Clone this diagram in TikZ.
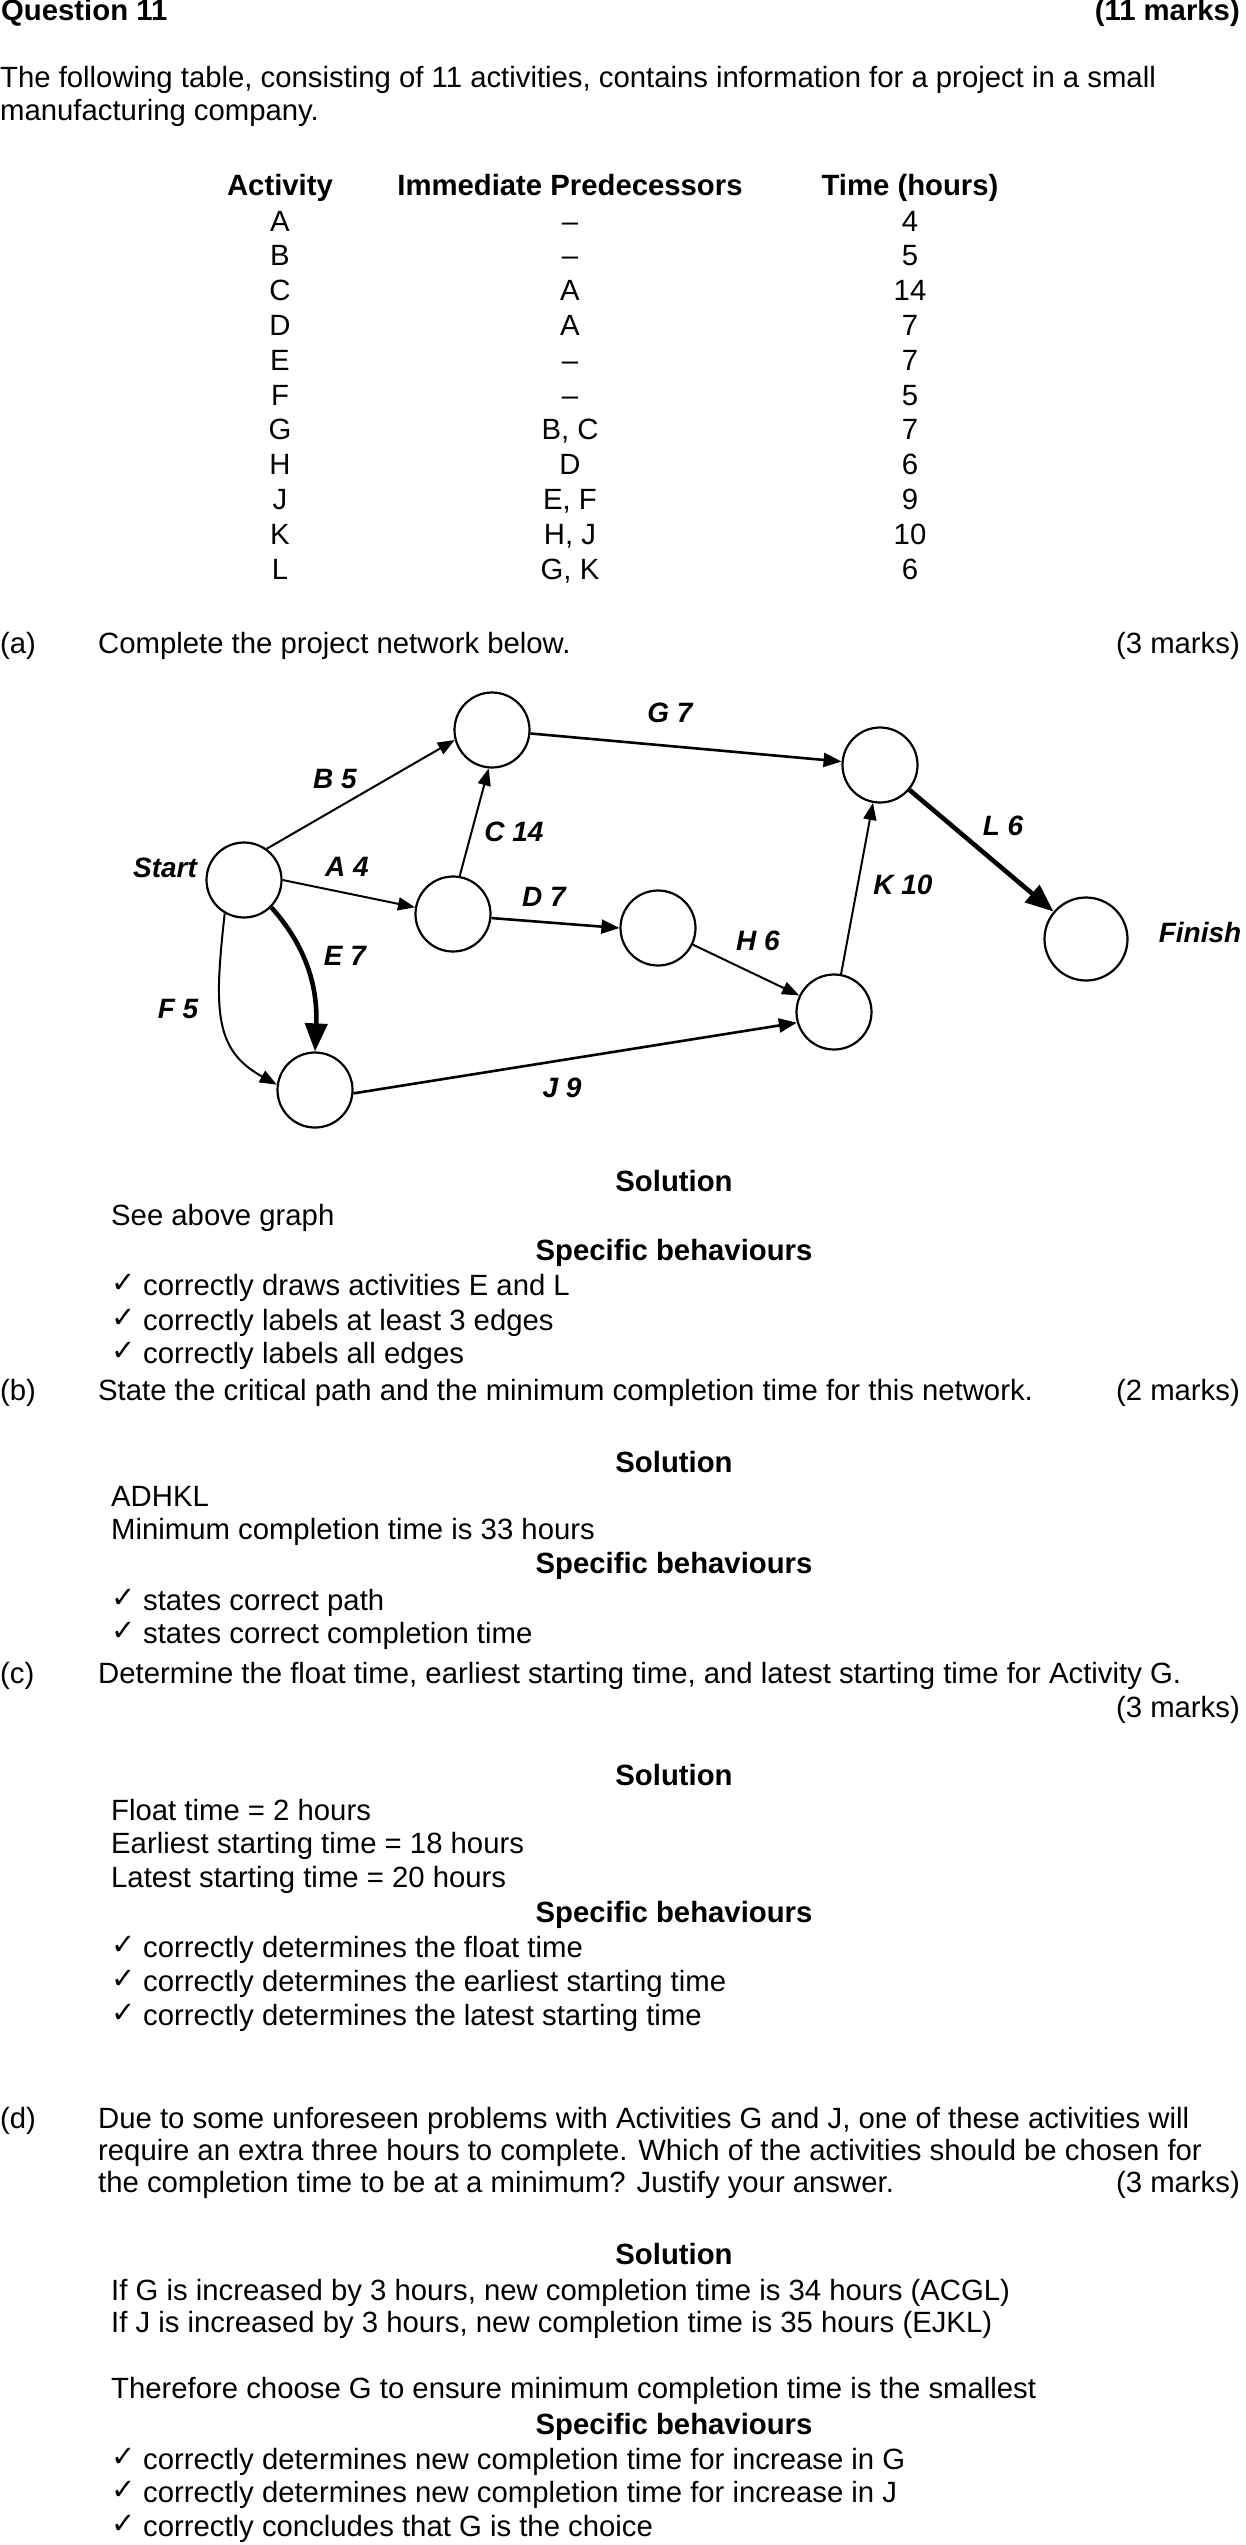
\documentclass[tikz,border=0pt]{standalone}
\usepackage{fontspec}
\setmainfont{Liberation Sans}
\newfontfamily\chkfont{DejaVu Sans}
\usetikzlibrary{arrows.meta}
\begin{document}
\begin{tikzpicture}[x=1pt,y=-1pt,
  txt/.style={anchor=base west,inner sep=0pt,font=\fontsize{29.3}{33}\selectfont},
  txtr/.style={txt,anchor=base east},
  txtc/.style={txt,anchor=base},
  bld/.style={font=\fontsize{29.3}{33}\selectfont\bfseries},
  chk/.style={anchor=base west,inner sep=0pt,yshift=3pt,font=\fontsize{29}{31}\selectfont\chkfont},
  ev/.style={circle,draw,line width=2.2pt,minimum size=75pt,inner sep=0pt},
  lab/.style={inner sep=0pt,font=\fontsize{28}{30}\selectfont\bfseries\itshape},
  act/.style={line width=2pt,-{Triangle[length=17pt,width=13pt]}},
  actm/.style={line width=2.6pt,-{Triangle[length=18pt,width=14pt]}},
  crit/.style={line width=4.6pt,-{Triangle[length=28pt,width=22pt]}}
]
\useasboundingbox (0,0) rectangle (1246,2545);

% ---------- header ----------
\node[txt,bld] (q) at (1,21) {Question 11};
\node[txtr,bld] (qm) at (1240,21) {(11 marks)};
\node[txt] (p1) at (0,88) {The following table, consisting of 11 activities, contains information for a project in a small};
\node[txt] (p2) at (0,121) {manufacturing company.};

% ---------- table ----------
\node[txtc,bld] (h1) at (280,195) {Activity};
\node[txtc,bld] (h2) at (570,195) {Immediate Predecessors};
\node[txtc,bld] (h3) at (910,195) {Time (hours)};
\foreach \a/\p/\t [count=\i from 0] in {A/–/4, B/–/5, C/A/14, D/A/7, E/–/7, F/–/5, G/{B, C}/7, H/D/6, J/{E, F}/9, K/{H, J}/10, L/{G, K}/6}{
  \node[txtc] (ra\i) at (280,231+\i*34.8) {\a};
  \node[txtc] (rp\i) at (570,231+\i*34.8) {\p};
  \node[txtc] (rt\i) at (910,231+\i*34.8) {\t};
}

% ---------- part (a) ----------
\node[txt] (la) at (0,653) {(a)};
\node[txt] (qa) at (98,653) {Complete the project network below.};
\node[txtr] (ma) at (1240,653) {(3 marks)};

% network
\node[ev] (S)  at (244,880) {};
\node[ev] (N1) at (492,730) {};
\node[ev] (N2) at (453,914) {};
\node[ev] (N3) at (315,1090) {};
\node[ev] (N4) at (658,928) {};
\node[ev] (N5) at (880,765) {};
\node[ev] (N6) at (834,1012) {};
\node[ev,minimum size=83pt] (N7) at (1086,939) {};

\draw[act]  (S.54) -- (N1.195);
\draw[act]  (S.0) -- (N2.170);
\draw[act]  (N2.80) -- (N1.-95);
\draw[actm] (N2.-6) -- (N4.180);
\draw[crit] (S.-45) .. controls (305,945) and (318,985) .. (N3.north);
\draw[act]  (S.-120) .. controls (214,1010) and (214,1050) .. (N3.172);
\draw[actm] (N1) -- (N5);
\draw[act]  (N4) -- (N6);
\draw[actm] (N3.-5) -- (N6.196);
\draw[act]  (N6) -- (N5);
\draw[crit] (N5) -- (N7);

\node[lab] (lS)  at (165,868) {Start};
\node[lab] (lF)  at (1200,932) {Finish};
\node[lab] (lB)  at (335,779) {B 5};
\node[lab] (lA)  at (347,867) {A 4};
\node[lab] (lC)  at (514,832) {C 14};
\node[lab] (lD)  at (544,897) {D 7};
\node[lab] (lE)  at (345,956) {E 7};
\node[lab] (lFF) at (178,1009) {F 5};
\node[lab] (lJ)  at (562,1088) {J 9};
\node[lab] (lG)  at (670,713) {G 7};
\node[lab] (lL)  at (1003,826) {L 6};
\node[lab] (lK)  at (903,885) {K 10};
\node[lab] (lH)  at (758,941) {H 6};

% solution (a)
\node[txtc,bld] (sa) at (674,1191) {Solution};
\node[txt] (sa1) at (111,1225) {See above graph};
\node[txtc,bld] (ba) at (674,1260) {Specific behaviours};
\node[chk] (ca1) at (111,1295) {✓};
\node[txt] (da1) at (143,1295) {correctly draws activities E and L};
\node[chk] (ca2) at (111,1330) {✓};
\node[txt] (da2) at (143,1330) {correctly labels at least 3 edges};
\node[chk] (ca3) at (111,1363) {✓};
\node[txt] (da3) at (143,1363) {correctly labels all edges};

% ---------- part (b) ----------
\node[txt] (lb) at (0,1400) {(b)};
\node[txt] (qb) at (98,1400) {State the critical path and the minimum completion time for this network.};
\node[txtr] (mb) at (1240,1400) {(2 marks)};
\node[txtc,bld] (sb) at (674,1472) {Solution};
\node[txt] (sb1) at (111,1506) {ADHKL};
\node[txt] (sb2) at (111,1539) {Minimum completion time is 33 hours};
\node[txtc,bld] (bb) at (674,1573) {Specific behaviours};
\node[chk] (cb1) at (111,1610) {✓};
\node[txt] (db1) at (143,1610) {states correct path};
\node[chk] (cb2) at (111,1643) {✓};
\node[txt] (db2) at (143,1643) {states correct completion time};

% ---------- part (c) ----------
\node[txt] (lc) at (0,1683) {(c)};
\node[txt] (qc) at (98,1683) {Determine the float time, earliest starting time, and latest starting time for Activity G.};
\node[txtr] (mc) at (1240,1717) {(3 marks)};
\node[txtc,bld] (sc) at (674,1785) {Solution};
\node[txt] (sc1) at (111,1820) {Float time = 2 hours};
\node[txt] (sc2) at (111,1853) {Earliest starting time = 18 hours};
\node[txt] (sc3) at (111,1887) {Latest starting time = 20 hours};
\node[txtc,bld] (bc) at (674,1922) {Specific behaviours};
\node[chk] (cc1) at (111,1957) {✓};
\node[txt] (dc1) at (143,1957) {correctly determines the float time};
\node[chk] (cc2) at (111,1991) {✓};
\node[txt] (dc2) at (143,1991) {correctly determines the earliest starting time};
\node[chk] (cc3) at (111,2025) {✓};
\node[txt] (dc3) at (143,2025) {correctly determines the latest starting time};

% ---------- part (d) ----------
\node[txt] (ld) at (0,2128) {(d)};
\node[txt] (qd1) at (98,2128) {Due to some unforeseen problems with Activities G and J, one of these activities will};
\node[txt] (qd2) at (98,2160) {require an extra three hours to complete. Which of the activities should be chosen for};
\node[txt] (qd3) at (98,2192) {the completion time to be at a minimum? Justify your answer.};
\node[txtr] (md) at (1240,2192) {(3 marks)};
\node[txtc,bld] (sd) at (674,2264) {Solution};
\node[txt] (sd1) at (111,2300) {If G is increased by 3 hours, new completion time is 34 hours (ACGL)};
\node[txt] (sd2) at (111,2332) {If J is increased by 3 hours, new completion time is 35 hours (EJKL)};
\node[txt] (sd3) at (111,2398) {Therefore choose G to ensure minimum completion time is the smallest};
\node[txtc,bld] (bd) at (674,2434) {Specific behaviours};
\node[chk] (cd1) at (111,2469) {✓};
\node[txt] (dd1) at (143,2469) {correctly determines new completion time for increase in G};
\node[chk] (cd2) at (111,2502) {✓};
\node[txt] (dd2) at (143,2502) {correctly determines new completion time for increase in J};
\node[chk] (cd3) at (111,2536) {✓};
\node[txt] (dd3) at (143,2536) {correctly concludes that G is the choice};
\end{tikzpicture}
\end{document}
